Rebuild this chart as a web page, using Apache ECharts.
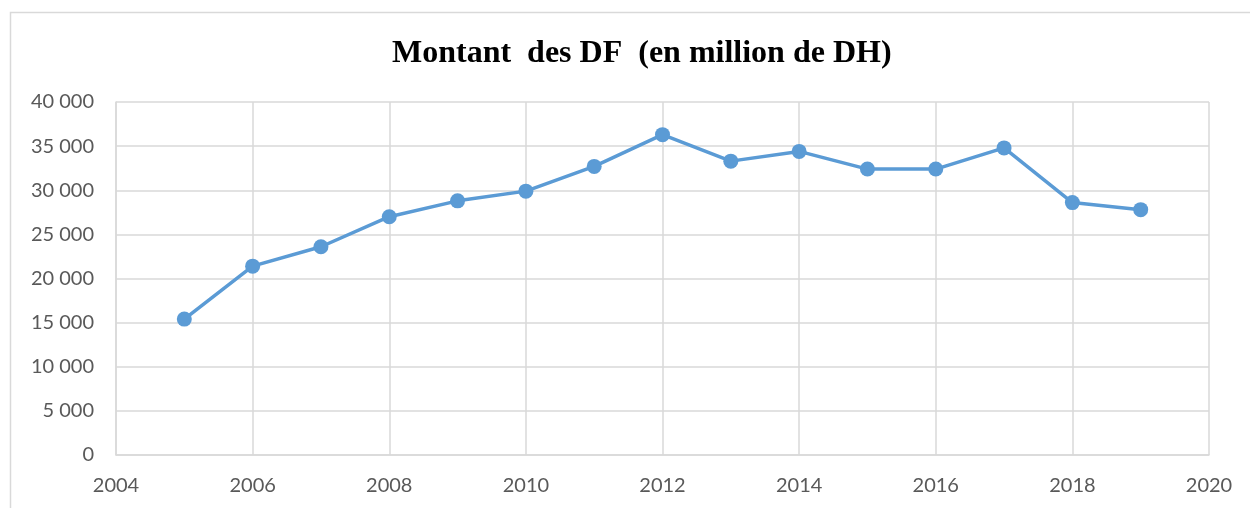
<!DOCTYPE html>
<html>
<head>
<meta charset="utf-8">
<script src="https://cdn.jsdelivr.net/npm/echarts@6/dist/echarts.min.js"></script>
<style>
  html, body { margin: 0; padding: 0; background: #fff; }
  #chart { width: 1250px; height: 508px; }
</style>
</head>
<body>
<div id="chart"></div>
<script>
// donnees
var years = [2005, 2006, 2007, 2008, 2009, 2010, 2011, 2012, 2013, 2014, 2015, 2016, 2017, 2018, 2019];
var montants = [15400, 21400, 23600, 27000, 28800, 29900, 32700, 36300, 33300, 34400, 32400, 32400, 34800, 28600, 27800];
var titre = 'Montant  des DF  (en million de DH)';

var chart = echarts.init(document.getElementById('chart'));

var points = [];
for (var i = 0; i < years.length; i++) {
  points.push([years[i], montants[i]]);
}

function fmt(v) {
  return String(v).replace(/\B(?=(\d{3})+(?!\d))/g, ' ');
}

chart.setOption({
  animation: false,
  backgroundColor: '#fff',
  graphic: [{
    type: 'rect',
    shape: { x: 10.5, y: 12.5, width: 1400, height: 700 },
    style: { fill: 'none', stroke: '#d9d9d9', lineWidth: 1.5 },
    silent: true
  }],
  title: {
    text: titre,
    left: 387,
    top: 33,
    textStyle: {
      fontFamily: 'Liberation Serif',
      fontWeight: 'bold',
      fontSize: 32,
      color: '#000'
    }
  },
  grid: { left: 116, right: 41, top: 102, bottom: 53 },
  xAxis: {
    type: 'value',
    min: 2004,
    max: 2020,
    interval: 2,
    axisLine: { show: true, lineStyle: { color: '#d9d9d9', width: 1.5 } },
    axisTick: { show: false },
    splitLine: { show: true, lineStyle: { color: '#d9d9d9', width: 1.5 } },
    axisLabel: {
      color: '#595959',
      fontFamily: 'Lato',
      fontSize: 20,
      margin: 21,
      showMinLabel: true,
      showMaxLabel: true,
      formatter: function (v) { return String(v); }
    }
  },
  yAxis: {
    type: 'value',
    min: 0,
    max: 40000,
    interval: 5000,
    axisLine: { show: true, lineStyle: { color: '#d9d9d9', width: 1.5 } },
    axisTick: { show: false },
    splitLine: { show: true, lineStyle: { color: '#d9d9d9', width: 1.5 } },
    axisLabel: {
      color: '#595959',
      fontFamily: 'Lato',
      fontSize: 20,
      margin: 22,
      formatter: fmt
    }
  },
  series: [{
    type: 'line',
    data: points,
    symbol: 'circle',
    symbolSize: 15,
    lineStyle: { color: '#5b9bd5', width: 3.5 },
    itemStyle: { color: '#5b9bd5' }
  }]
});
</script>
</body>
</html>
